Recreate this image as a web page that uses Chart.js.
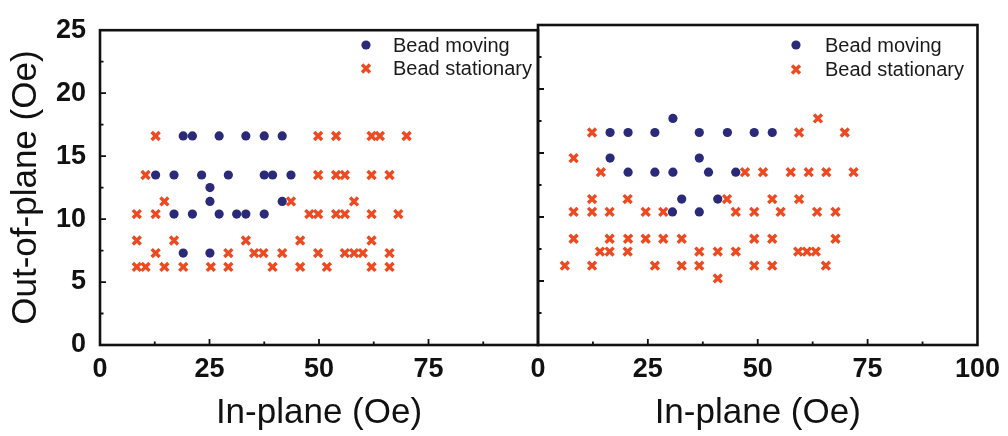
<!DOCTYPE html>
<html>
<head>
<meta charset="utf-8">
<title>Bead moving / stationary vs. field</title>
<script src="https://cdn.jsdelivr.net/npm/chart.js@4/dist/chart.umd.min.js"></script>
<style>
  html, body { margin: 0; padding: 0; background: #fff; }
  #wrap { position: relative; width: 1008px; height: 436px; }
  #wrap canvas { position: absolute; left: 0; top: 0; }
</style>
</head>
<body>
<div id="wrap">
  <canvas id="leftPanel" width="1008" height="436"></canvas>
  <canvas id="rightPanel" width="1008" height="436"></canvas>
</div>
<script>
const seriesNames = ['Bead moving', 'Bead stationary'];
const xTicks = [0, 25, 50, 75, 100];
const yTicks = [0, 5, 10, 15, 20, 25];
const xTitle = 'In-plane (Oe)';
const yTitle = 'Out-of-plane (Oe)';

// left panel
const leftMovingX = [19.0, 21.1, 27.2, 33.3, 37.5, 41.6,
  12.7, 16.9, 23.2, 29.3, 37.5, 39.4, 43.6,
  25.1,
  25.1, 41.6,
  16.9, 21.1, 27.2, 31.2, 33.3, 37.5,
  19.0, 25.1];
const leftMovingY = [16.6, 16.6, 16.6, 16.6, 16.6, 16.6,
  13.5, 13.5, 13.5, 13.5, 13.5, 13.5, 13.5,
  12.5,
  11.4, 11.4,
  10.4, 10.4, 10.4, 10.4, 10.4, 10.4,
  7.3, 7.3];

const leftStationaryX = [12.7, 49.8, 53.9, 62.0, 63.9, 70.0,
  10.4, 49.8, 53.9, 55.9, 62.0, 66.1,
  14.7, 43.6, 58.0,
  8.4, 12.7, 47.8, 49.8, 53.9, 55.9, 62.0, 68.1,
  8.4, 16.9, 33.3, 45.7, 62.0,
  12.7, 29.3, 35.2, 37.3, 41.6, 49.8, 55.9, 58.0, 60.0, 66.1,
  8.4, 10.4, 14.7, 19.0, 25.3, 29.3, 39.4, 45.7, 51.8, 62.0, 66.1];
const leftStationaryY = [16.6, 16.6, 16.6, 16.6, 16.6, 16.6,
  13.5, 13.5, 13.5, 13.5, 13.5, 13.5,
  11.4, 11.4, 11.4,
  10.4, 10.4, 10.4, 10.4, 10.4, 10.4, 10.4, 10.4,
  8.3, 8.3, 8.3, 8.3, 8.3,
  7.3, 7.3, 7.3, 7.3, 7.3, 7.3, 7.3, 7.3, 7.3, 7.3,
  6.2, 6.2, 6.2, 6.2, 6.2, 6.2, 6.2, 6.2, 6.2, 6.2, 6.2];

// right panel
const rightMovingX = [30.7,
  16.4, 20.5, 26.6, 36.7, 43.1, 49.2, 53.3,
  16.4, 36.7,
  20.5, 26.6, 30.7, 38.8, 45.0,
  32.7, 40.9,
  30.6, 36.7];
const rightMovingY = [17.7,
  16.6, 16.6, 16.6, 16.6, 16.6, 16.6, 16.6,
  14.6, 14.6,
  13.5, 13.5, 13.5, 13.5, 13.5,
  11.4, 11.4,
  10.4, 10.4];

const rightStationaryX = [63.7,
  12.3, 59.4, 69.8,
  8.1,
  14.3, 47.1, 51.2, 57.5, 61.6, 65.6, 71.8,
  12.3, 20.4, 43.0, 53.3, 59.4,
  8.1, 12.3, 16.3, 24.5, 28.5, 45.0, 49.2, 55.2, 63.5, 67.7,
  8.1, 16.3, 20.5, 24.5, 28.5, 32.7, 49.2, 53.3, 67.7,
  14.1, 16.3, 20.4, 36.7, 40.9, 45.0, 59.2, 61.2, 63.2,
  6.1, 12.3, 26.6, 32.7, 36.7, 49.2, 53.3, 65.5,
  40.9];
const rightStationaryY = [17.7,
  16.6, 16.6, 16.6,
  14.6,
  13.5, 13.5, 13.5, 13.5, 13.5, 13.5, 13.5,
  11.4, 11.4, 11.4, 11.4, 11.4,
  10.4, 10.4, 10.4, 10.4, 10.4, 10.4, 10.4, 10.4, 10.4, 10.4,
  8.3, 8.3, 8.3, 8.3, 8.3, 8.3, 8.3, 8.3, 8.3,
  7.3, 7.3, 7.3, 7.3, 7.3, 7.3, 7.3, 7.3, 7.3,
  6.2, 6.2, 6.2, 6.2, 6.2, 6.2, 6.2, 6.2,
  5.2];

const MOVING_COLOR = '#2b2a78';
const STATIONARY_COLOR = '#ee4a22';
const FONT = "'Liberation Sans', Arial, sans-serif";

const pts = (xs, ys) => xs.map((x, i) => ({ x: x, y: ys[i] }));

function drawMarker(ctx, ds, x, y) {
  ctx.save();
  if (ds.pointStyle === 'crossRot') {
    const r = ds.pointRadius * Math.SQRT1_2;
    ctx.strokeStyle = ds.pointBorderColor;
    ctx.lineWidth = ds.pointBorderWidth;
    ctx.beginPath();
    ctx.moveTo(x - r, y - r); ctx.lineTo(x + r, y + r);
    ctx.moveTo(x - r, y + r); ctx.lineTo(x + r, y - r);
    ctx.stroke();
  } else {
    ctx.fillStyle = ds.pointBackgroundColor;
    ctx.beginPath();
    ctx.arc(x, y, ds.pointRadius, 0, Math.PI * 2);
    ctx.fill();
  }
  ctx.restore();
}

// box around the plot, inward tick marks, and the little legend in the corner
const panelFrame = {
  id: 'panelFrame',
  afterDraw(chart, args, opts) {
    const { ctx, chartArea: a } = chart;
    const xs = chart.scales.x, ys = chart.scales.y;
    ctx.save();
    ctx.strokeStyle = '#111';
    ctx.lineWidth = 1.8;
    ctx.beginPath();
    for (let i = 0; i < xTicks.length - 1; i++) {
      const p = xs.getPixelForValue(xTicks[i]);
      const m = xs.getPixelForValue((xTicks[i] + xTicks[i + 1]) / 2);
      if (i > 0) { ctx.moveTo(p, a.bottom); ctx.lineTo(p, a.bottom - 6); }
      ctx.moveTo(m, a.bottom); ctx.lineTo(m, a.bottom - 3.5);
    }
    for (let i = 0; i < yTicks.length - 1; i++) {
      const p = ys.getPixelForValue(yTicks[i]);
      const m = ys.getPixelForValue((yTicks[i] + yTicks[i + 1]) / 2);
      if (i > 0) { ctx.moveTo(a.left, p); ctx.lineTo(a.left + 6, p); }
      ctx.moveTo(a.left, m); ctx.lineTo(a.left + 3.5, m);
    }
    ctx.stroke();
    ctx.lineWidth = 2.6;
    ctx.strokeRect(a.left, a.top, a.right - a.left, a.bottom - a.top);

    ctx.font = '20px ' + FONT;
    ctx.fillStyle = '#1a1a1a';
    ctx.textBaseline = 'middle';
    chart.data.datasets.forEach((ds, i) => {
      const y = opts.y + i * opts.gap;
      drawMarker(ctx, ds, opts.x, y);
      ctx.fillText(ds.label, opts.x + opts.textGap, y + 1);
    });
    ctx.restore();
  }
};

function makePanel(id, movingX, movingY, stationaryX, stationaryY, cfg) {
  const tickFont = { family: FONT, size: 27, weight: 'bold' };
  const titleFont = { family: FONT, size: 35 };
  return new Chart(document.getElementById(id), {
    type: 'scatter',
    data: {
      datasets: [{
        label: seriesNames[0],
        data: pts(movingX, movingY),
        pointStyle: 'circle',
        pointRadius: 4.6,
        pointBorderWidth: 0,
        pointBackgroundColor: MOVING_COLOR,
        order: 1
      }, {
        label: seriesNames[1],
        data: pts(stationaryX, stationaryY),
        pointStyle: 'crossRot',
        pointRadius: 5.6,
        pointBorderWidth: 3.4,
        pointBorderColor: STATIONARY_COLOR,
        pointBackgroundColor: STATIONARY_COLOR,
        order: 0
      }]
    },
    options: {
      responsive: false,
      animation: false,
      devicePixelRatio: 1,
      layout: { padding: cfg.padding },
      plugins: {
        legend: { display: false },
        tooltip: { enabled: false },
        panelFrame: cfg.legend
      },
      scales: {
        x: {
          type: 'linear',
          min: 0,
          max: 100,
          afterBuildTicks: s => { s.ticks = xTicks.map(v => ({ value: v })); },
          afterFit: s => { s.height = 91; },
          grid: { display: false, drawTicks: false },
          border: { display: false },
          ticks: {
            color: '#111',
            font: tickFont,
            padding: 8,
            maxRotation: 0,
            autoSkip: false,
            callback: v => (cfg.hideLastX && v === 100) ? '' : String(v)
          },
          title: {
            display: true,
            text: xTitle,
            color: '#111',
            font: titleFont,
            padding: { top: 0, bottom: 2 }
          }
        },
        y: {
          type: 'linear',
          min: 0,
          max: 25,
          display: cfg.showY,
          afterBuildTicks: s => { s.ticks = yTicks.map(v => ({ value: v })); },
          afterFit: s => { s.width = cfg.showY ? 100 : 0; },
          grid: { display: false, drawTicks: false },
          border: { display: false },
          ticks: { color: '#111', font: tickFont, padding: 14 },
          title: {
            display: true,
            text: yTitle,
            color: '#111',
            font: titleFont,
            padding: { top: 5, bottom: 0 }
          }
        }
      }
    },
    plugins: [panelFrame]
  });
}

makePanel('leftPanel', leftMovingX, leftMovingY, leftStationaryX, leftStationaryY, {
  padding: { left: 0, top: 25, right: 470, bottom: 0 },
  showY: true,
  hideLastX: true,
  legend: { x: 366, y: 45, gap: 23.5, textGap: 27 }
});

makePanel('rightPanel', rightMovingX, rightMovingY, rightStationaryX, rightStationaryY, {
  padding: { left: 538, top: 25, right: 27, bottom: 0 },
  showY: false,
  hideLastX: false,
  legend: { x: 796, y: 45, gap: 24.5, textGap: 29 }
});
</script>
</body>
</html>
